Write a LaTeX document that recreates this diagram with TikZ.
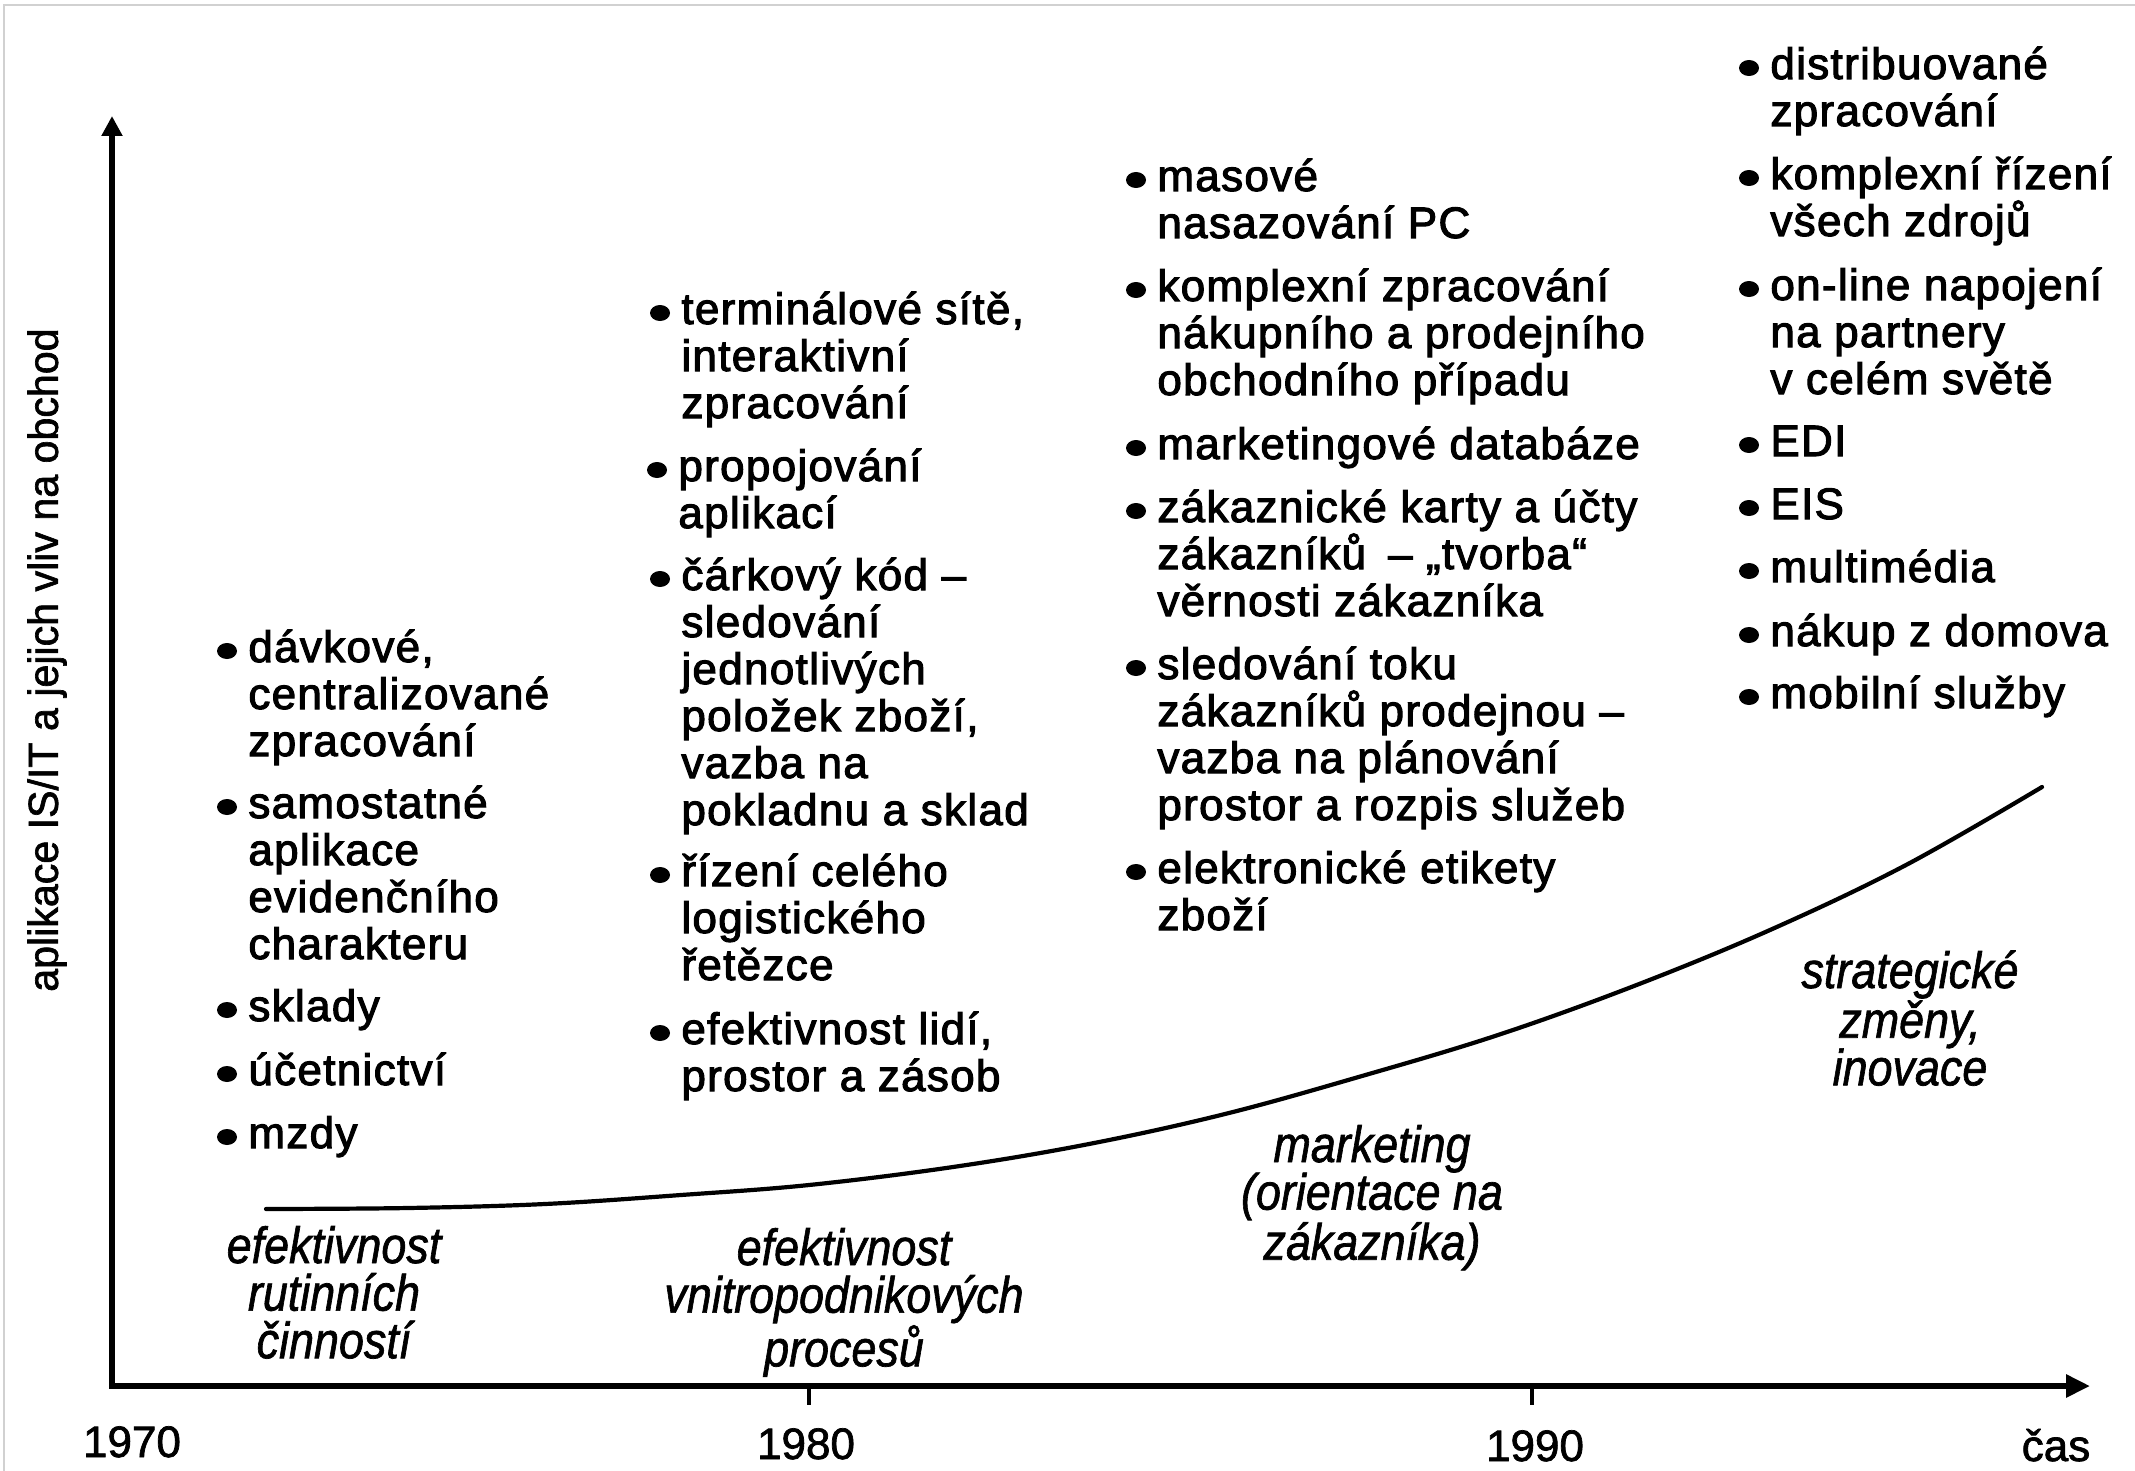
\documentclass[tikz,border=0pt]{standalone}
\usepackage{fontspec}
\setmainfont[FakeBold=1.6,ItalicFeatures={FakeBold=1.4}]{Liberation Sans}
\newfontfamily\itemfont[LetterSpace=3,FakeBold=2.4]{Liberation Sans}
\usetikzlibrary{arrows.meta,calc}
\tikzset{
  x=0.5pt, y=-0.5pt,
  axisline/.style={line width=2.9pt, line join=miter},
  tickline/.style={line width=1.6pt},
  curveline/.style={line width=2.1pt, line cap=round},
  itm/.style={anchor=base west, inner sep=0pt, font=\itemfont\fontsize{22pt}{23.5pt}\selectfont},
  era/.style={anchor=base, inner sep=0pt, xscale=0.88, transform shape, font=\itshape\fontsize{25.5pt}{23.8pt}\selectfont},
  yr/.style={anchor=base, inner sep=0pt, font=\fontsize{22pt}{22pt}\selectfont},
  ylab/.style={rotate=90, inner sep=0pt, font=\fontsize{21pt}{21pt}\selectfont},
}
\newcommand\bitem[4]{%
  \node[itm] (#1) at (#2,#3) {\parbox[t]{420pt}{\raggedright #4}};
  \fill ($(#1.base west)+(-21,-11)$) ellipse [x radius=5pt, y radius=4pt];
}
\begin{document}
\begin{tikzpicture}
\useasboundingbox (0,0) rectangle (2135,1471);
\draw[black!18, line width=0.6pt] (4,1471) -- (4,5) -- (2135,5);

% axes
\coordinate (O) at (112,1386);
\coordinate (ytip) at (112,116);
\coordinate (xtip) at (2090,1386);
\draw[axisline, {Triangle[length=10pt,width=10pt]}-{Triangle[length=12pt,width=11pt]}] (ytip) -- (O) -- (xtip);
\coordinate (t80) at (809,1386);
\coordinate (t90) at (1532,1386);
\draw[tickline] (t80) -- ++(0,19);
\draw[tickline] (t90) -- ++(0,19);

\node[yr] (y70) at (132,1457) {1970};
\node[yr] (y80) at (806,1459) {1980};
\node[yr] (y90) at (1535,1461) {1990};
\node[yr] (cas) at (2056,1461) {čas};
\node[ylab] (ytitle) at (47,660) {\scalebox{0.98}[1]{aplikace IS/IT a jejich vliv na obchod}};

% curve
\draw[curveline] plot[smooth, tension=0.6] coordinates {(266,1209) (408,1208) (545,1204) (681,1195) (809,1185) (953,1167) (1089,1144) (1225,1114) (1362,1076) (1498,1035) (1634,986) (1770,930) (1906,865) (2042,787)};

% column 1
\bitem{a1}{248}{662}{dávkové,\\centralizované\\zpracování}
\bitem{a2}{248}{818}{samostatné\\aplikace\\evidenčního\\charakteru}
\bitem{a3}{248}{1021}{sklady}
\bitem{a4}{248}{1085}{účetnictví}
\bitem{a5}{248}{1148}{mzdy}

% column 2
\bitem{b1}{681}{324}{terminálové sítě,\\interaktivní\\zpracování}
\bitem{b2}{678}{481}{propojování\\aplikací}
\bitem{b3}{681}{590}{čárkový kód –\\sledování\\jednotlivých\\položek zboží,\\vazba na\\pokladnu a sklad}
\bitem{b4}{681}{886}{řízení celého\\logistického\\řetězce}
\bitem{b5}{681}{1044}{efektivnost lidí,\\prostor a zásob}

% column 3
\bitem{c1}{1157}{191}{masové\\nasazování PC}
\bitem{c2}{1157}{301}{komplexní zpracování\\nákupního a prodejního\\obchodního případu}
\bitem{c3}{1157}{459}{marketingové databáze}
\bitem{c4}{1157}{522}{zákaznické karty a účty\\zákazníků\hspace{0.5em}– „tvorba“\\věrnosti zákazníka}
\bitem{c5}{1157}{679}{sledování toku\\zákazníků prodejnou –\\vazba na plánování\\prostor a rozpis služeb}
\bitem{c6}{1157}{883}{elektronické etikety\\zboží}

% column 4
\bitem{d1}{1770}{79}{distribuované\\zpracování}
\bitem{d2}{1770}{189}{komplexní řízení\\všech zdrojů}
\bitem{d3}{1770}{300}{on-line napojení\\na partnery\\v celém světě}
\bitem{d4}{1770}{456}{EDI}
\bitem{d5}{1770}{519}{EIS}
\bitem{d6}{1770}{582}{multimédia}
\bitem{d7}{1770}{646}{nákup z domova}
\bitem{d8}{1770}{708}{mobilní služby}

% era labels
\node[era] (e1) at (334,1263) {\parbox[t]{300pt}{\centering efektivnost\\rutinních\\činností}};
\node[era] (e2) at (844,1265) {\parbox[t]{300pt}{\centering efektivnost\\vnitropodnikových\\procesů}};
\node[era] (e3) at (1372,1162) {\parbox[t]{300pt}{\centering marketing\\(orientace na\\zákazníka)}};
\node[era] (e4) at (1910,988) {\parbox[t]{300pt}{\centering strategické\\změny,\\inovace}};
\end{tikzpicture}
\end{document}
